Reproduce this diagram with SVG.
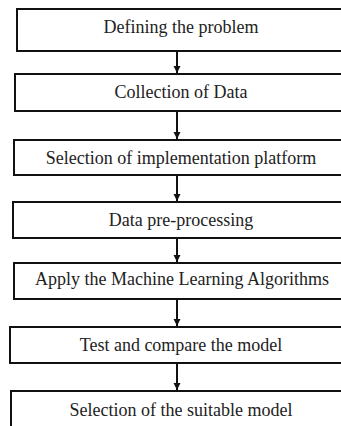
<svg xmlns="http://www.w3.org/2000/svg" width="341" height="426" viewBox="0 0 341 426">
<style>
.box{fill:#fff;stroke:#111;stroke-width:2}
.lbl{font-family:"Liberation Serif","Times New Roman",serif;font-size:18px;fill:#222;text-anchor:middle}
.conn{stroke:#111;stroke-width:2;fill:none}
</style>
<defs>
<marker id="ah" markerWidth="8" markerHeight="8" refX="7" refY="4" orient="auto" markerUnits="userSpaceOnUse">
<path d="M0,0.5 L7,4 L0,7.5 Z" fill="#111"/>
</marker>
</defs>
<rect width="341" height="426" fill="#fff"/>
<g id="n1"><rect class="box" x="17" y="9" width="340" height="42"/><text class="lbl" x="181" y="33">Defining the problem</text></g>
<g id="n2"><rect class="box" x="15" y="74" width="340" height="37"/><text class="lbl" x="181" y="97.5">Collection of Data</text></g>
<g id="n3"><rect class="box" x="14" y="140" width="340" height="35"/><text class="lbl" x="181" y="164">Selection of implementation platform</text></g>
<g id="n4"><rect class="box" x="13" y="202" width="340" height="36"/><text class="lbl" x="181" y="226">Data pre-processing</text></g>
<g id="n5"><rect class="box" x="14" y="263" width="340" height="36"/><text class="lbl" x="182" y="285">Apply the Machine Learning Algorithms</text></g>
<g id="n6"><rect class="box" x="10" y="327" width="340" height="36"/><text class="lbl" x="181" y="351">Test and compare the model</text></g>
<g id="n7"><rect class="box" x="11" y="391" width="340" height="40"/><text class="lbl" x="181" y="416">Selection of the suitable model</text></g>
<g id="connectors">
<line class="conn" x1="177" y1="51" x2="177" y2="73" marker-end="url(#ah)"/>
<line class="conn" x1="177" y1="111" x2="177" y2="139" marker-end="url(#ah)"/>
<line class="conn" x1="177" y1="175" x2="177" y2="201" marker-end="url(#ah)"/>
<line class="conn" x1="177" y1="238" x2="177" y2="262" marker-end="url(#ah)"/>
<line class="conn" x1="177" y1="299" x2="177" y2="326" marker-end="url(#ah)"/>
<line class="conn" x1="177" y1="363" x2="177" y2="390" marker-end="url(#ah)"/>
</g>
</svg>
